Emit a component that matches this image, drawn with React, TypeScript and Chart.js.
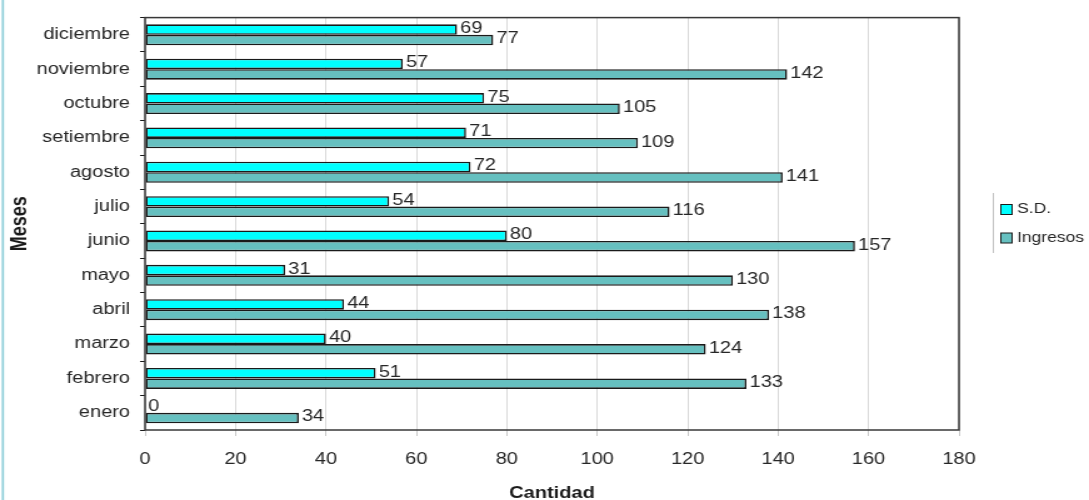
import React, { useEffect, useRef } from 'react';
import { Chart, registerables } from 'chart.js';

Chart.register(...registerables);

const months = ['diciembre', 'noviembre', 'octubre', 'setiembre', 'agosto', 'julio', 'junio', 'mayo', 'abril', 'marzo', 'febrero', 'enero'];
const sdValues = [69, 57, 75, 71, 72, 54, 80, 31, 44, 40, 51, 0];
const ingresosValues = [77, 142, 105, 109, 141, 116, 157, 130, 138, 124, 133, 34];
const seriesNames = ['S.D.', 'Ingresos'];
const seriesColors = ['#00FFFF', '#66C0C0'];
const xMin = 0;
const xMax = 180;
const xStep = 20;

const FONT = '"Liberation Sans", Arial, Helvetica, sans-serif';
const W = 871;
const H = 500;

const decor = {
  id: 'decor',
  afterDatasetsDraw(chart: any) {
    const { ctx, chartArea: a } = chart;
    ctx.save();
    ctx.strokeStyle = '#383838';
    ctx.lineWidth = 1.5;
    ctx.strokeRect(a.left, a.top, a.right - a.left, a.bottom - a.top);
    ctx.font = `16px ${FONT}`;
    ctx.fillStyle = '#262626';
    ctx.textAlign = 'left';
    ctx.textBaseline = 'middle';
    chart.data.datasets.forEach((ds: any, i: number) => {
      const meta = chart.getDatasetMeta(i);
      meta.data.forEach((bar: any, j: number) => {
        ctx.fillText(String(ds.data[j]), bar.x + 2.5, bar.y - 1);
      });
    });
    ctx.restore();
  },
  afterDraw(chart: any) {
    const { ctx } = chart;
    ctx.save();
    ctx.fillStyle = '#92d0da';
    ctx.fillRect(1.4, 0, 1.8, H);
    ctx.strokeStyle = '#c4c4c4';
    ctx.lineWidth = 1;
    ctx.beginPath();
    ctx.moveTo(794.5, 193);
    ctx.lineTo(794.5, 253);
    ctx.stroke();
    const ys = [209.5, 238];
    ctx.font = `14px ${FONT}`;
    ctx.textAlign = 'left';
    ctx.textBaseline = 'middle';
    chart.data.datasets.forEach((ds: any, i: number) => {
      const y = ys[i];
      ctx.fillStyle = ds.backgroundColor;
      ctx.fillRect(800.5, y - 5, 9, 10);
      ctx.strokeStyle = '#1a1a1a';
      ctx.lineWidth = 1;
      ctx.strokeRect(800.5, y - 5, 9, 10);
      ctx.fillStyle = '#262626';
      ctx.fillText(ds.label, 813.4, y);
    });
    ctx.restore();
  },
};

export default function App() {
  const ref = useRef<HTMLCanvasElement | null>(null);

  useEffect(() => {
    if (!ref.current) return;
    const chart = new Chart(ref.current, {
      type: 'bar',
      data: {
        labels: months,
        datasets: [
          {
            label: seriesNames[0],
            data: sdValues,
            backgroundColor: seriesColors[0],
            borderColor: '#1a1a1a',
            borderWidth: 1.6,
            borderSkipped: false,
            categoryPercentage: 0.61,
            barPercentage: 1,
          },
          {
            label: seriesNames[1],
            data: ingresosValues,
            backgroundColor: seriesColors[1],
            borderColor: '#1a1a1a',
            borderWidth: 1.6,
            borderSkipped: false,
            categoryPercentage: 0.61,
            barPercentage: 1,
          },
        ],
      },
      options: {
        indexAxis: 'y',
        responsive: false,
        animation: false,
        devicePixelRatio: 1,
        layout: { padding: { left: 0, top: 14, right: W - 767, bottom: 0 } },
        plugins: {
          legend: { display: false },
          tooltip: { enabled: false },
        },
        scales: {
          x: {
            type: 'linear',
            min: xMin,
            max: xMax,
            ticks: {
              stepSize: xStep,
              padding: 14,
              color: '#262626',
              font: { family: FONT, size: 16 },
            },
            grid: {
              color: '#d9d9d9',
              lineWidth: 1,
              drawTicks: true,
              tickLength: 6,
              tickColor: '#c8c8c8',
            },
            border: { display: false },
            title: {
              display: true,
              text: 'Cantidad',
              color: '#1a1a1a',
              font: { family: FONT, size: 16, weight: 'bold' },
              padding: { top: 0, bottom: -3 },
            },
            afterFit(scale: any) {
              scale.height = H - 430;
            },
          },
          y: {
            type: 'category',
            ticks: {
              padding: 8,
              color: '#262626',
              font: { family: FONT, size: 16 },
              autoSkip: false,
            },
            grid: {
              offset: true,
              drawOnChartArea: false,
              drawTicks: true,
              tickLength: 4,
              tickColor: '#1a1a1a',
              tickWidth: 1,
            },
            border: { display: false },
            title: {
              display: true,
              text: 'Meses',
              color: '#1a1a1a',
              font: { family: FONT, size: 18, weight: 'bold' },
              padding: { top: 5.2, bottom: 0 },
            },
            afterFit(scale: any) {
              scale.width = 116;
            },
          },
        },
      } as any,
      plugins: [decor],
    });
    return () => chart.destroy();
  }, []);

  return (
    <div style={{ position: 'absolute', left: 0, top: 0, width: 1089, height: 500, background: '#fff' }}>
      <canvas ref={ref} width={W} height={H} style={{ width: '1089px', height: '500px', display: 'block' }} />
    </div>
  );
}
